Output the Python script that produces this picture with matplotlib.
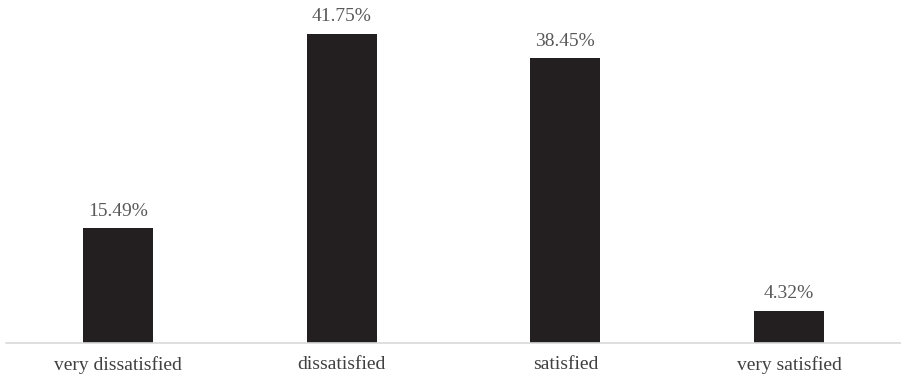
import matplotlib.pyplot as plt

categories = ["very dissatisfied", "dissatisfied", "satisfied", "very satisfied"]
shares = [15.49, 41.75, 38.45, 4.32]

plt.rcParams['font.family'] = ['Liberation Serif', 'DejaVu Serif']

fig = plt.figure(figsize=(9.01, 3.8), dpi=100)
ax = fig.add_axes([6 / 901, 1 - 342.5 / 380, 895 / 901, 342.5 / 380])

x = range(len(categories))
bars = ax.bar(x, shares, width=0.313, color="#231F20")

for b, v in zip(bars, shares):
    ax.annotate(f"{v:.2f}%", (b.get_x() + b.get_width() / 2, v),
                xytext=(0, 6), textcoords="offset points",
                ha="center", va="bottom", fontsize=14, color="#595959")

ax.set_xlim(-0.5, 3.5)
ax.set_ylim(0, 46.3)
ax.set_xticks(list(x))
ax.set_xticklabels(categories, fontsize=14, color="#404040")
ax.tick_params(axis="x", length=0, pad=10)
ax.set_yticks([])
for side in ["top", "left", "right"]:
    ax.spines[side].set_visible(False)
ax.spines["bottom"].set_color("#D9D9D9")
ax.spines["bottom"].set_linewidth(1.2)

fig.savefig("out.png", dpi=100)
